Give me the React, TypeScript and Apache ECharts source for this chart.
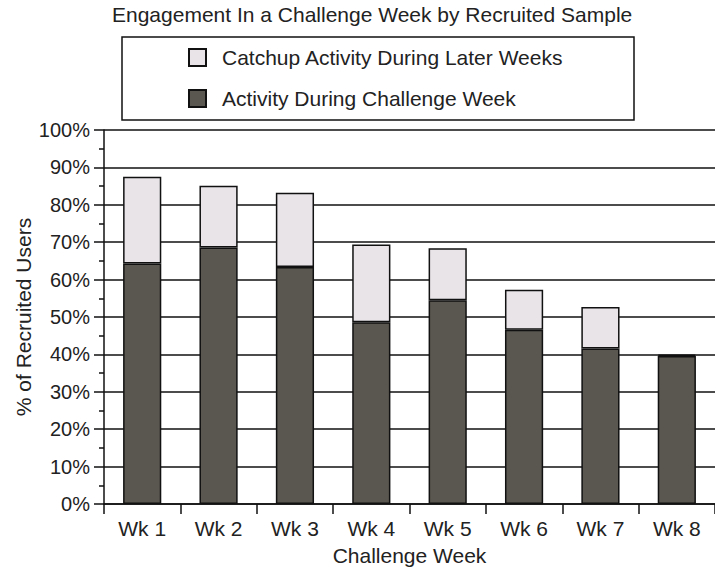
import React, { useEffect, useRef } from "react";
import * as echarts from "echarts";

const categories = ["Wk 1", "Wk 2", "Wk 3", "Wk 4", "Wk 5", "Wk 6", "Wk 7", "Wk 8"];
const challengeWeek = [64.3, 68.6, 63.4, 48.6, 54.5, 46.6, 41.6, 39.6];
const catchupLater = [23.2, 16.5, 19.8, 20.8, 13.9, 10.7, 11.1, 0.3];
const seriesNames = ["Catchup Activity During Later Weeks", "Activity During Challenge Week"];

const FONT = "'Liberation Sans', Arial, Helvetica, sans-serif";
const TXT = "#222";

export default function App() {
  const ref = useRef<HTMLDivElement>(null);
  useEffect(() => {
    if (!ref.current) return;
    const chart = echarts.init(ref.current, undefined, { renderer: "svg" });
    chart.setOption({
      animation: false,
      backgroundColor: "#fff",
      textStyle: { fontFamily: FONT, color: TXT },
      title: {
        text: "Engagement In a Challenge Week by Recruited Sample",
        left: 112,
        top: 4,
        padding: 0,
        textStyle: { fontFamily: FONT, fontSize: 21, fontWeight: "normal", color: TXT },
      },
      legend: {
        orient: "vertical",
        left: 188,
        top: 47,
        padding: 0,
        itemWidth: 17,
        itemHeight: 17,
        itemGap: 20,
        icon: "rect",
        data: seriesNames,
        textStyle: { fontFamily: FONT, fontSize: 21, color: TXT, padding: [0, 0, 0, 11] },
      },
      graphic: [
        {
          type: "rect",
          shape: { x: 122, y: 37, width: 512, height: 83 },
          style: { fill: "none", stroke: "#111", lineWidth: 1.5 },
          silent: true,
        },
      ],
      grid: { left: 104, right: 0, top: 130, bottom: 65, containLabel: false },
      xAxis: {
        type: "category",
        data: categories,
        boundaryGap: true,
        name: "Challenge Week",
        nameLocation: "middle",
        nameGap: 41,
        nameTextStyle: { fontFamily: FONT, fontSize: 21, color: TXT },
        axisLine: { show: true, lineStyle: { color: "#111", width: 1.5 } },
        axisTick: { show: true, length: 10, alignWithLabel: false, lineStyle: { color: "#111", width: 1.5 } },
        axisLabel: { fontFamily: FONT, fontSize: 21, color: TXT, margin: 14 },
        splitLine: { show: false },
      },
      yAxis: {
        type: "value",
        min: 0,
        max: 100,
        interval: 10,
        name: "% of Recruited Users",
        nameLocation: "middle",
        nameGap: 70,
        nameRotate: 90,
        nameMoveOverlap: false,
        nameTextStyle: { fontFamily: FONT, fontSize: 21, color: TXT },
        axisLine: { show: true, lineStyle: { color: "#111", width: 1.5 } },
        axisTick: { show: true, length: 10, lineStyle: { color: "#111", width: 1.5 } },
        minorTick: { show: true, splitNumber: 2, length: 5, lineStyle: { color: "#111", width: 1.5 } },
        axisLabel: { fontFamily: FONT, fontSize: 20, color: TXT, margin: 14, formatter: "{value}%" },
        splitLine: { show: true, lineStyle: { color: "#111", width: 1.5 } },
      },
      series: [
        {
          name: seriesNames[1],
          type: "bar",
          stack: "total",
          barWidth: "50%",
          data: challengeWeek,
          itemStyle: { color: "#5a5750", borderColor: "#111", borderWidth: 1.5 },
        },
        {
          name: seriesNames[0],
          type: "bar",
          stack: "total",
          barWidth: "50%",
          data: catchupLater,
          itemStyle: { color: "#e8e4e8", borderColor: "#111", borderWidth: 1.5 },
        },
      ],
    });
    return () => chart.dispose();
  }, []);
  return <div ref={ref} style={{ width: 715, height: 571, position: "absolute", left: 0, top: 0 }} />;
}
